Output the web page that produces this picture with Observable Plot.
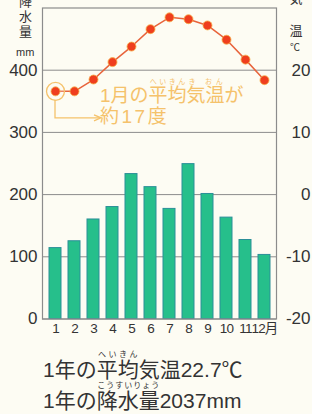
<!DOCTYPE html>
<html><head><meta charset="utf-8">
<script src="https://cdn.jsdelivr.net/npm/d3@7"></script>
<script src="https://cdn.jsdelivr.net/npm/@observablehq/plot@0.6"></script>
<style>
html,body{margin:0;padding:0;background:#fdfcf3;}
body{width:312px;height:414px;overflow:hidden;position:relative;font-family:"Liberation Sans","Noto Sans CJK JP",sans-serif;color:#333;}
#chart{position:absolute;left:0;top:0;}
.lab{position:absolute;font-family:"Noto Sans CJK JP",sans-serif;font-size:13px;line-height:15px;text-align:center;color:#333;}
.vlab{position:absolute;font-family:"Noto Sans CJK JP",sans-serif;font-size:13px;line-height:16px;writing-mode:vertical-rl;letter-spacing:2px;color:#333;}
.unit{position:absolute;font-size:11px;line-height:11px;color:#333;}
.note{position:absolute;color:#f5c26b;font-size:19px;line-height:19px;white-space:nowrap;}
.note rt{font-size:7px;color:#f5c26b;}
.sum{position:absolute;left:43px;font-size:21px;line-height:21px;white-space:nowrap;color:#333;}
.sum rt{font-size:8px;}
#chart svg g[aria-label="x-axis tick label"] text{letter-spacing:-0.8px;}
</style></head><body>
<div id="chart"></div>
<div class="vlab" style="left:17px;top:-5px;">降水量</div>
<div class="unit" style="left:16px;top:47px;">mm</div>
<div class="lab" style="left:288px;top:-10px;width:16px;">気</div>
<div class="lab" style="left:288px;top:22px;width:16px;">温</div>
<div class="unit" style="left:290px;top:42px;font-family:'Noto Sans CJK JP';font-size:10px;line-height:10px;">℃</div>
<div class="note" style="left:100px;top:78px;">1月の<ruby>平均<rt>へいきん</rt></ruby><ruby>気温<rt>き おん</rt></ruby>が</div>
<div class="note" style="left:100px;top:107px;letter-spacing:2.5px;">約17度</div>
<div class="sum" style="top:350px;">1年の<ruby>平均<rt>へいきん</rt></ruby>気温22.7℃</div>
<div class="sum" style="top:381px;">1年の<ruby>降水量<rt>こうすいりょう</rt></ruby>2037mm</div>
<script>
const months = [1,2,3,4,5,6,7,8,9,10,11,12];
const monthLabels = ["1","2","3","4","5","6","7","8","9","10","11","12月"];
const precip = [114, 125, 160, 180, 233, 212, 177, 249, 201, 163, 127, 103];
const temp = [16.6, 16.6, 18.5, 21.3, 23.8, 26.6, 28.5, 28.2, 27.2, 24.9, 21.7, 18.4];
const precipTicks = [0, 100, 200, 300, 400];
const tempTicks = [-20, -10, 0, 10, 20];

const noteColor = "#f5c26b";
const rows = months.map((m, i) => ({month: m, precip: precip[i], temp: temp[i]}));
// temperature shares the vertical scale: -20°C at 0 mm, 30°C at 500 mm
const tY = d => (d.temp + 20) * 10;

function bracket(index, scales) {
  const x = scales.x, y = scales.y;
  const bw = x.bandwidth ? x.bandwidth() : ((scales.scales && scales.scales.x && scales.scales.x.bandwidth) || 0);
  const cx = x(months[0]) + bw / 2;
  const cy = y(tY(rows[0]));
  const g = d3.create("svg:g").attr("fill", "none").attr("stroke", noteColor).attr("stroke-width", 1.3);
  g.append("path").attr("d", `M${cx},${cy + 9}V${cy + 27}H${cx + 45}`);
  g.append("path").attr("d", `M${cx + 39},${cy + 24}L${cx + 46},${cy + 27}L${cx + 39},${cy + 30}`);
  return g.node();
}

const chart = Plot.plot({
  width: 312,
  height: 345,
  marginTop: 7.5,
  marginBottom: 26.5,
  marginLeft: 42,
  marginRight: 36,
  style: {background: "transparent", fontFamily: "'Liberation Sans','Noto Sans CJK JP',sans-serif", color: "#333"},
  x: {type: "band", domain: months, paddingInner: 0.38, paddingOuter: 0.19},
  y: {domain: [0, 500]},
  marks: [
    Plot.gridY(precipTicks, {stroke: "#8c8c8c", strokeOpacity: 1, strokeWidth: 1}),
    Plot.barY(rows, {x: "month", y: "precip", fill: "#26bf8b", stroke: "#2b8f98", strokeWidth: 1}),
    Plot.frame({stroke: "#8c8c8c", strokeWidth: 1.2}),
    Plot.line(rows, {x: "month", y: tY, stroke: "#e8643c", strokeWidth: 1.5}),
    Plot.dot(rows.slice(0, 1), {x: "month", y: tY, r: 9, stroke: noteColor, strokeWidth: 1.3, fill: "#fdfcf3", fillOpacity: 0.2}),
    bracket,
    Plot.dot(rows, {x: "month", y: tY, r: 4.5, fill: "#ef3e1e", stroke: "#f6b04a", strokeWidth: 0.8}),
    Plot.axisY(precipTicks, {anchor: "left", tickSize: 0, tickPadding: 5, fontSize: 17, label: null}),
    Plot.axisY(precipTicks, {anchor: "right", tickSize: 0, tickPadding: 0, textAnchor: "end", dx: 34, fontSize: 17, label: null,
      tickFormat: (d, i) => tempTicks[i]}),
    Plot.axisX({tickSize: 0, tickPadding: 4, fontSize: 13.5, label: null, tickFormat: (d, i) => monthLabels[i]})
  ]
});
document.getElementById("chart").append(chart);
</script>
</body></html>
